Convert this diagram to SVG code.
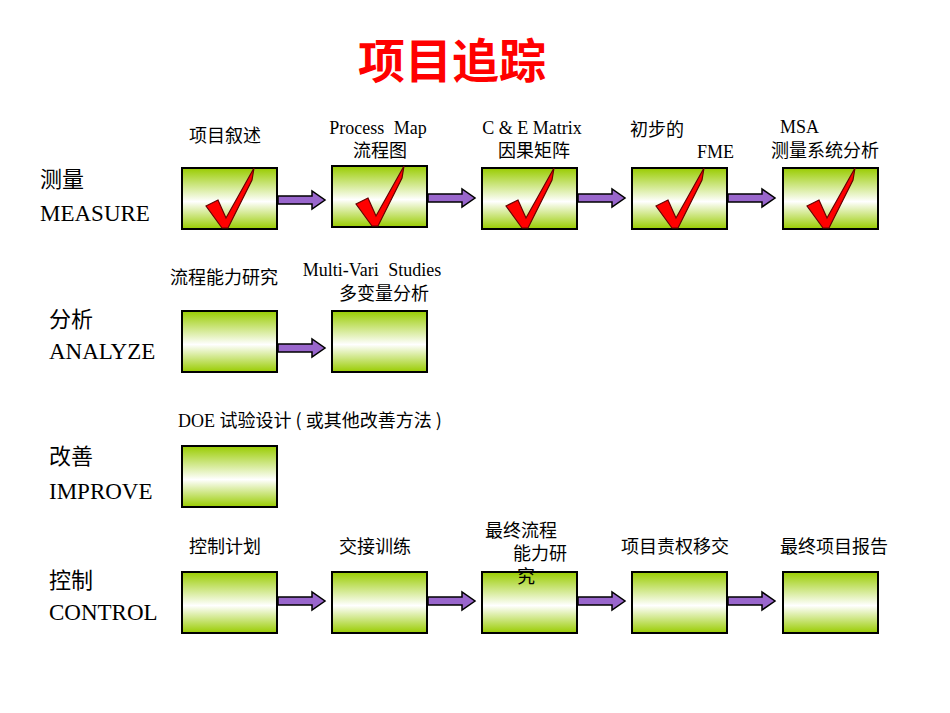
<svg xmlns="http://www.w3.org/2000/svg" xmlns:xlink="http://www.w3.org/1999/xlink" width="950" height="713" viewBox="0 0 950 713">
<style>
.b{fill:url(#g);stroke:#000;stroke-width:2}
.a{fill:#9966cc;stroke:#000;stroke-width:1.5}
.c{fill:#ff0000;stroke:#660000;stroke-width:1.2}
.cn{font-family:"Noto Sans CJK SC",sans-serif;font-size:18px;fill:#000}
.en{font-family:"Liberation Serif",serif;font-size:18px;fill:#000}
.ws{word-spacing:5px}
.lc{font-family:"Noto Sans CJK SC",sans-serif;font-size:22px;fill:#000}
.le{font-family:"Liberation Serif",serif;font-size:23px;fill:#000}
</style>
<defs>
<linearGradient id="g" x1="0" y1="0" x2="0" y2="1">
<stop offset="0" stop-color="#99cc00"/><stop offset="0.55" stop-color="#ffffff"/><stop offset="1" stop-color="#99cc00"/>
</linearGradient>
<path id="ck" class="c" d="M24 38 L36 32 L44 50 L72 0 L70 12 L46 60 L40 60 Z"/>
<path id="ar" class="a" d="M0 -4 L34 -4 L34 -9 L47 0 L34 9 L34 4 L0 4 Z"/>
</defs>
<text x="452" y="78" text-anchor="middle" font-family="Noto Sans CJK SC,sans-serif" font-size="47" font-weight="bold" fill="#ff0000">项目追踪</text>
<g id="labels">
<text x="40" y="187" class="lc">测量</text><text x="40" y="221" class="le">MEASURE</text>
<text x="49" y="327" class="lc">分析</text><text x="49" y="359" class="le">ANALYZE</text>
<text x="49" y="464" class="lc">改善</text><text x="49" y="499" class="le">IMPROVE</text>
<text x="49" y="588" class="lc">控制</text><text x="49" y="620" class="le">CONTROL</text>
</g>
<g id="texts">
<text x="189" y="142" class="cn">项目叙述</text>
<text x="378" y="134" class="en ws" text-anchor="middle">Process Map</text>
<text x="380" y="157" class="cn" text-anchor="middle">流程图</text>
<text x="532" y="134" class="en" text-anchor="middle">C &amp; E Matrix</text>
<text x="534" y="157" class="cn" text-anchor="middle">因果矩阵</text>
<text x="630" y="136" class="cn">初步的</text>
<text x="697" y="158" class="en">FME</text>
<text x="780" y="133" class="en">MSA</text>
<text x="771" y="157" class="cn">测量系统分析</text>
<text x="170" y="284" class="cn">流程能力研究</text>
<text x="372" y="276" class="en ws" text-anchor="middle">Multi-Vari Studies</text>
<text x="384" y="300" class="cn" text-anchor="middle">多变量分析</text>
<text x="178" y="427" class="en">DOE  <tspan class="cn">试验设计 ( 或其他改善方法 )</tspan></text>
<text x="189" y="553" class="cn">控制计划</text>
<text x="339" y="553" class="cn">交接训练</text>
<text x="485" y="537" class="cn">最终流程</text>
<text x="513" y="560" class="cn">能力研</text>
<text x="621" y="553" class="cn">项目责权移交</text>
<text x="780" y="553" class="cn">最终项目报告</text>
</g>
<g id="connectors">
<use xlink:href="#ar" x="278" y="200"/><use xlink:href="#ar" x="428" y="198"/><use xlink:href="#ar" x="578" y="198"/><use xlink:href="#ar" x="728" y="198"/>
<use xlink:href="#ar" x="278" y="348"/>
<use xlink:href="#ar" x="278" y="601"/><use xlink:href="#ar" x="428" y="601"/><use xlink:href="#ar" x="578" y="601"/><use xlink:href="#ar" x="728" y="601"/>
</g>
<g id="m1"><rect class="b" x="182" y="168" width="95" height="61"/><use xlink:href="#ck" x="182" y="168"/></g>
<g id="m2"><rect class="b" x="332" y="166" width="95" height="61"/><use xlink:href="#ck" x="332" y="166"/></g>
<g id="m3"><rect class="b" x="482" y="168" width="95" height="61"/><use xlink:href="#ck" x="482" y="168"/></g>
<g id="m4"><rect class="b" x="632" y="168" width="95" height="61"/><use xlink:href="#ck" x="632" y="168"/></g>
<g id="m5"><rect class="b" x="783" y="168" width="95" height="61"/><use xlink:href="#ck" x="783" y="168"/></g>
<g id="a1"><rect class="b" x="182" y="311" width="95" height="61"/></g>
<g id="a2"><rect class="b" x="332" y="311" width="95" height="61"/></g>
<g id="i1"><rect class="b" x="182" y="446" width="95" height="61"/></g>
<g id="c1"><rect class="b" x="182" y="572" width="95" height="61"/></g>
<g id="c2"><rect class="b" x="332" y="572" width="95" height="61"/></g>
<g id="c3"><rect class="b" x="482" y="572" width="95" height="61"/></g>
<g id="c4"><rect class="b" x="632" y="572" width="95" height="61"/></g>
<g id="c5"><rect class="b" x="783" y="572" width="95" height="61"/></g>
<text x="517" y="583" class="cn">究</text>
</svg>
